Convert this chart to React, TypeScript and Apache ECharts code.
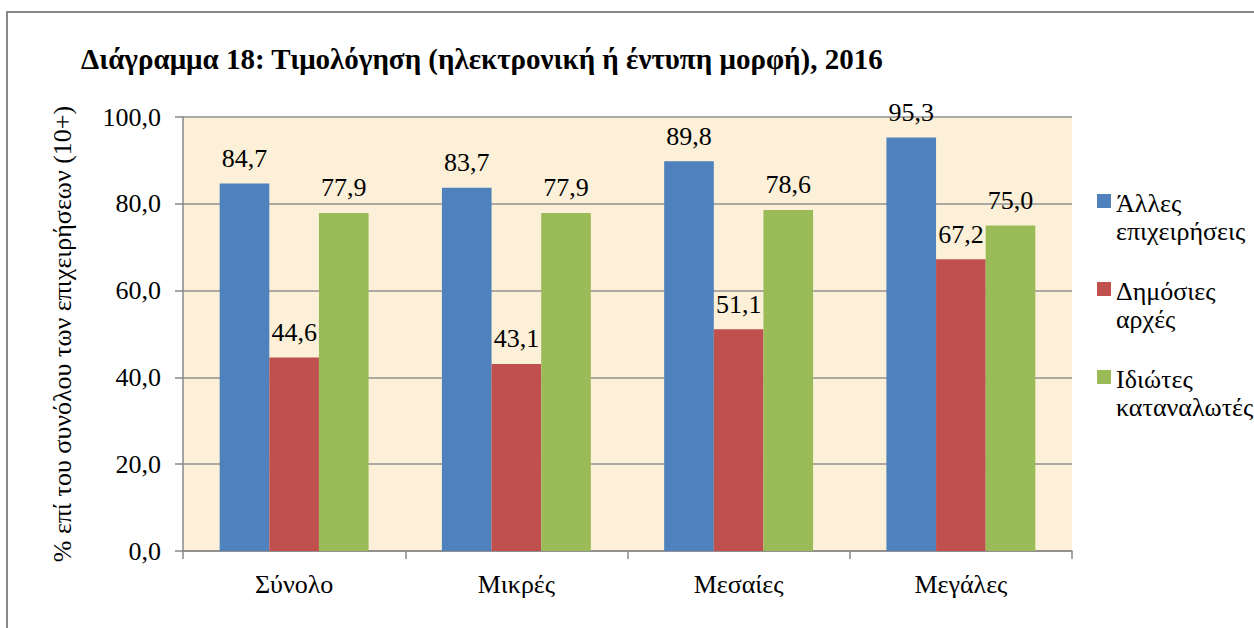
import React, { useEffect, useRef } from "react";
import * as echarts from "echarts";

const categories = ["Σύνολο", "Μικρές", "Μεσαίες", "Μεγάλες"];
const seriesNames = ["Άλλες επιχειρήσεις", "Δημόσιες αρχές", "Ιδιώτες καταναλωτές"];
const allesEpixeiriseis = [84.7, 83.7, 89.8, 95.3];
const dimosiesArxes = [44.6, 43.1, 51.1, 67.2];
const idiotesKatanalotes = [77.9, 77.9, 78.6, 75.0];
const yTicks = [0, 20, 40, 60, 80, 100];
const colors = ["#4F81BD", "#C0504D", "#9BBB59"];

const titleText = "Διάγραμμα 18: Τιμολόγηση (ηλεκτρονική ή έντυπη μορφή), 2016";
const yName = "% επί του συνόλου των επιχειρήσεων (10+)";

const FONT = "Liberation Serif";
const fmt = (v: number) => v.toFixed(1).replace(".", ",");

export default function App() {
  const ref = useRef<HTMLDivElement>(null);
  useEffect(() => {
    if (!ref.current) return;
    const chart = echarts.init(ref.current, undefined, { renderer: "svg" });
    const values = [allesEpixeiriseis, dimosiesArxes, idiotesKatanalotes];
    chart.setOption({
      animation: false,
      backgroundColor: "#ffffff",
      textStyle: { fontFamily: FONT },
      title: {
        text: titleText,
        left: 76,
        top: 39,
        textStyle: { fontFamily: FONT, fontWeight: "bold", fontSize: 29, color: "#000" },
      },
      graphic: [
        {
          type: "rect",
          shape: { x: 7, y: 12, width: 1400, height: 800 },
          style: { fill: "none", stroke: "#888888", lineWidth: 2 },
          silent: true,
        },
      ],
      legend: {
        orient: "vertical",
        left: 1092,
        top: 184,
        itemWidth: 14,
        itemHeight: 46,
        itemGap: 32,
        icon: "path://M0,0L14,0L14,14L0,14Z M0,46L14,46Z",
        formatter: (name: string) => name.replace(" ", "\n"),
        textStyle: { fontFamily: FONT, fontSize: 26, lineHeight: 28, color: "#000" },
        data: seriesNames,
      },
      grid: {
        left: 183,
        top: 117,
        width: 889,
        height: 434,
        show: true,
        backgroundColor: "#FCF0D8",
        borderWidth: 0,
      },
      xAxis: {
        type: "category",
        data: categories,
        axisLine: { lineStyle: { color: "#888888", width: 1.5 } },
        axisTick: { show: true, length: 8, lineStyle: { color: "#888888", width: 1.5 } },
        axisLabel: { fontFamily: FONT, fontSize: 26, color: "#000", margin: 20 },
      },
      yAxis: {
        type: "value",
        min: yTicks[0],
        max: yTicks[yTicks.length - 1],
        interval: 20,
        name: yName,
        nameLocation: "middle",
        nameGap: 108,
        nameTextStyle: { fontFamily: FONT, fontSize: 26, color: "#000" },
        axisLine: { show: true, lineStyle: { color: "#888888", width: 1.5 } },
        axisTick: { show: true, length: 8, lineStyle: { color: "#888888", width: 1.5 } },
        axisLabel: { fontFamily: FONT, fontSize: 26, color: "#000", margin: 22, formatter: (v: number) => fmt(v) },
        splitLine: { show: true, lineStyle: { color: "#929292", width: 1.5 } },
      },
      series: seriesNames.map((name, i) => ({
        name,
        type: "bar",
        data: values[i],
        barGap: "0%",
        barCategoryGap: "33%",
        itemStyle: { color: colors[i] },
        label: {
          show: true,
          position: "top",
          distance: 12,
          fontFamily: FONT,
          fontSize: 26,
          color: "#000",
          formatter: (p: any) => fmt(p.value),
        },
      })),
    });
    return () => chart.dispose();
  }, []);
  return (
    <div
      ref={ref}
      style={{ position: "fixed", left: 0, top: 0, width: 1254, height: 628 }}
    />
  );
}
